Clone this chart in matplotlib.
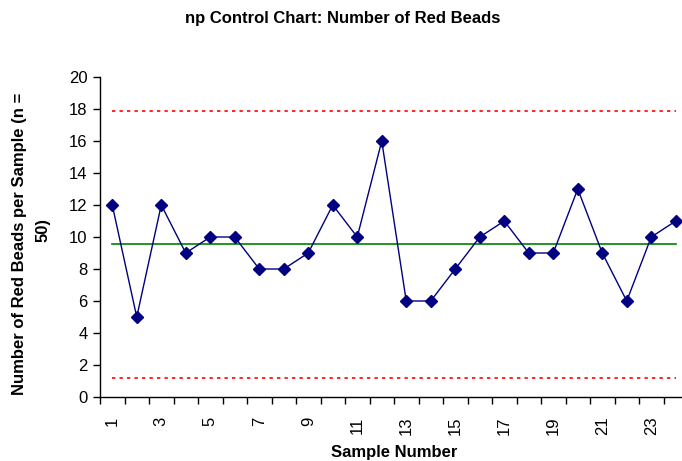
import matplotlib
matplotlib.use("Agg")
import matplotlib.pyplot as plt

plt.rcParams['font.family'] = ['Liberation Sans', 'DejaVu Sans']

samples = list(range(1, 25))
red_beads = [12, 5, 12, 9, 10, 10, 8, 8, 9, 12, 10, 16, 6, 6, 8, 10, 11, 9, 9, 13, 9, 6, 10, 11]
center_line = 9.54
ucl = 17.87
lcl = 1.21
y_ticks = [0, 2, 4, 6, 8, 10, 12, 14, 16, 18, 20]
x_tick_labels = [str(i) for i in range(1, 25, 2)]

W, H = 682, 461
fig = plt.figure(figsize=(W / 100, H / 100), dpi=100)
ax = fig.add_axes([100 / W, 1 - 397 / H, 588 / W, 320 / H])

ax.plot(samples, [ucl] * len(samples), color='#FF0000', lw=1.2, linestyle=(0, (2, 2.5)))
ax.plot(samples, [lcl] * len(samples), color='#FF0000', lw=1.2, linestyle=(0, (2, 2.5)))
ax.plot(samples, [center_line] * len(samples), color='#008000', lw=1.2)
ax.plot(samples, red_beads, color='#000080', lw=1, marker='D', markersize=6.5,
        markerfacecolor='#000080', markeredgecolor='#000080')

ax.set_xlim(0.5, 24.5)
ax.set_ylim(0, 20)
ax.set_yticks(y_ticks)
ax.tick_params(axis='y', direction='out', length=5, width=1, labelsize=12, pad=4)

ax.set_xticks(list(range(1, 25, 2)))
ax.set_xticklabels(x_tick_labels, rotation=90, fontsize=12)
ax.tick_params(axis='x', which='major', length=0, pad=14)
ax.set_xticks([i + 0.5 for i in range(0, 25)], minor=True)
ax.tick_params(axis='x', which='minor', direction='out', length=5, width=1)

for s in ['top', 'right']:
    ax.spines[s].set_visible(False)
for s in ['left', 'bottom']:
    ax.spines[s].set_linewidth(1)
    ax.spines[s].set_color('black')

fig.text(343 / W, 1 - 19 / H, 'np Control Chart: Number of Red Beads', ha='center', va='center',
         fontsize=12, fontweight='bold')
fig.text(394 / W, 1 - 452 / H, 'Sample Number', ha='center', va='center', fontsize=12, fontweight='bold')
fig.text(20 / W, 1 - 395 / H, 'Number of Red Beads per Sample (n =', rotation=90, ha='center', va='bottom',
         fontsize=12, fontweight='bold')
fig.text(43 / W, 1 - 230 / H, '50)', rotation=90, ha='center', va='center', fontsize=12, fontweight='bold')

fig.savefig('out.png', dpi=100)
